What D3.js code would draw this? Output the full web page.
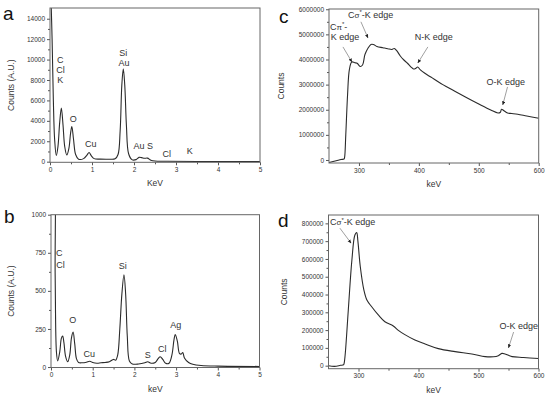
<!DOCTYPE html>
<html lang="en">
  <head>
    <meta charset="UTF-8" />
    <title>EDS / EELS spectra</title>
    <script src="https://cdnjs.cloudflare.com/ajax/libs/d3/7.8.5/d3.min.js"></script>
    <style>
      body {
        margin: 0;
        background: #fff;
        font-family: Arial, 'Liberation Sans', sans-serif;
      }
      .frame {
        fill: none;
        stroke: #666;
        stroke-width: 1;
      }
      .tick line {
        stroke: #555;
      }
      .tick text {
        font-size: 6.5px;
        fill: #333;
      }
      .spec {
        fill: none;
        stroke: #2b2b2b;
        stroke-width: 1.1;
      }
      .title {
        font-size: 8.5px;
        fill: #333;
      }
      .lab {
        font-size: 9px;
        fill: #333;
      }
      .letter {
        font-size: 19px;
        fill: #111;
      }
      .arrow {
        stroke: #888;
        stroke-width: 0.8;
      }
    </style>
  </head>
  <body>
    <svg width="550" height="399"></svg>
    <script>
      // panel a: EDS, counts vs KeV
      const aKeV = [0.02, 0.05, 0.08, 0.11, 0.15, 0.19, 0.23, 0.27, 0.31, 0.35, 0.4, 0.45, 0.49, 0.52, 0.56, 0.61, 0.68, 0.8, 0.88, 0.93, 0.98, 1.05, 1.2, 1.4, 1.55, 1.62, 1.67, 1.71, 1.745, 1.78, 1.82, 1.87, 1.95, 2.05, 2.12, 2.18, 2.25, 2.32, 2.4, 2.5, 2.8, 3.5, 5];
      const aCounts = [16500, 12000, 6000, 2200, 600, 1500, 3800, 5250, 3600, 1500, 650, 1300, 2800, 3450, 2200, 700, 250, 300, 650, 900, 600, 300, 250, 240, 280, 700, 3000, 7500, 9100, 7500, 3500, 800, 200, 200, 420, 400, 330, 350, 150, 60, 40, 20, 10];
      const aLabels = [['C', 0.245, 9650], ['Cl', 0.25, 8730], ['K', 0.245, 7750], ['O', 0.555, 3890], ['Cu', 0.97, 1470], ['Si', 1.745, 10360], ['Au', 1.76, 9380], ['Au S', 2.22, 1215], ['Cl', 2.78, 490], ['K', 3.33, 725]];

      // panel b: EDS, counts vs keV
      const bKeV = [0.05, 0.07, 0.1, 0.13, 0.16, 0.21, 0.25, 0.28, 0.31, 0.35, 0.4, 0.45, 0.49, 0.53, 0.57, 0.61, 0.66, 0.75, 0.85, 0.93, 1.0, 1.1, 1.2, 1.3, 1.4, 1.5, 1.55, 1.6, 1.65, 1.7, 1.75, 1.79, 1.83, 1.88, 1.95, 2.1, 2.25, 2.32, 2.4, 2.5, 2.57, 2.62, 2.68, 2.75, 2.83, 2.9, 2.95, 2.98, 3.03, 3.08, 3.12, 3.16, 3.2, 3.3, 3.4, 3.6, 4, 5];
      const bCounts = [1300, 1300, 600, 100, 40, 100, 190, 203, 160, 70, 35, 80, 190, 229, 150, 55, 30, 28, 32, 38, 30, 25, 28, 30, 35, 50, 45, 80, 250, 480, 606, 480, 200, 40, 20, 20, 28, 35, 25, 30, 55, 68, 50, 25, 25, 80, 180, 214, 170, 90, 85, 95, 60, 30, 18, 10, 6, 4];
      const bLabels = [['C', 0.2, 729], ['Cl', 0.23, 652], ['O', 0.52, 289], ['Cu', 0.92, 67], ['Si', 1.72, 642], ['S', 2.32, 60], ['Cl', 2.67, 97], ['Ag', 2.99, 256]];

      // panel c: EELS, counts vs keV
      const cKeV = [250, 262, 270, 275, 276, 278, 281, 284, 288, 293, 297, 302, 306, 310, 315, 320, 324, 330, 340, 348, 355, 359, 363, 369, 375, 381, 387, 391, 395, 398, 402, 410, 420, 440, 460, 480, 500, 520, 532, 536, 538, 542, 548, 555, 565, 580, 600];
      const cCounts = [-100000, -30000, 20000, 40000, 100000, 1000000, 2600000, 3600000, 3900000, 3870000, 3850000, 3720000, 3780000, 4200000, 4450000, 4600000, 4600000, 4520000, 4470000, 4430000, 4400000, 4440000, 4350000, 4140000, 3980000, 3850000, 3700000, 3620000, 3650000, 3700000, 3600000, 3450000, 3300000, 3000000, 2740000, 2480000, 2230000, 1990000, 1870000, 1900000, 2020000, 1960000, 1870000, 1850000, 1820000, 1750000, 1660000];

      // panel d: EELS, counts vs keV
      const dKeV = [250, 260, 270, 275, 276, 278, 283, 289, 294, 297, 299, 303, 309, 314, 322, 333, 344, 358, 367, 378, 394, 411, 433, 461, 489, 511, 525, 533, 539, 544, 550, 556, 575, 600];
      const dCounts = [0, -4000, 2000, 5000, 13000, 70000, 313000, 594000, 735000, 748000, 700000, 556000, 425000, 369000, 331000, 285000, 247000, 223000, 197000, 173000, 144000, 122000, 96000, 79000, 66000, 51000, 50000, 56000, 69000, 66000, 58000, 51000, 46000, 40000];

      const svg = d3.select('svg');

      function drawPanel(p) {
        const x = d3.scaleLinear().domain(p.xDomain).range([p.l, p.r]);
        const y = d3.scaleLinear().domain(p.yDomain).range([p.b, p.t]);
        const g = svg.append('g');

        g.append('clipPath')
          .attr('id', 'clip-' + p.id)
          .append('rect')
          .attr('x', p.l)
          .attr('y', p.t)
          .attr('width', p.r - p.l)
          .attr('height', p.b - p.t);

        const pts = p.xs.map((v, i) => [v, p.ys[i]]);
        g.append('path')
          .attr('class', 'spec')
          .attr('clip-path', `url(#clip-${p.id})`)
          .attr('d', d3.line().x(d => x(d[0])).y(d => y(d[1])).curve(d3.curveCatmullRom.alpha(0.5))(pts));

        // minor ticks
        g.append('g')
          .attr('transform', `translate(0,${p.b})`)
          .call(d3.axisBottom(x).tickValues(p.xMinor).tickSize(2).tickFormat(''))
          .call(s => s.select('.domain').remove());
        g.append('g')
          .attr('transform', `translate(${p.l},0)`)
          .call(d3.axisLeft(y).tickValues(p.yMinor).tickSize(2).tickFormat(''))
          .call(s => s.select('.domain').remove());

        // major ticks
        g.append('g')
          .attr('transform', `translate(0,${p.b})`)
          .call(d3.axisBottom(x).tickValues(p.xTicks).tickSize(3).tickPadding(2).tickFormat(d3.format('d')))
          .call(s => s.select('.domain').remove());
        g.append('g')
          .attr('transform', `translate(${p.l},0)`)
          .call(d3.axisLeft(y).tickValues(p.yTicks).tickSize(3).tickPadding(2).tickFormat(d3.format('d')))
          .call(s => s.select('.domain').remove());

        g.append('rect')
          .attr('class', 'frame')
          .attr('x', p.l)
          .attr('y', p.t)
          .attr('width', p.r - p.l)
          .attr('height', p.b - p.t);

        g.append('text')
          .attr('class', 'title')
          .attr('x', (p.l + p.r) / 2)
          .attr('y', p.b + 24)
          .attr('text-anchor', 'middle')
          .text(p.xTitle);
        g.append('text')
          .attr('class', 'title')
          .attr('transform', `translate(${p.yTitleX},${(p.t + p.b) / 2}) rotate(-90)`)
          .attr('text-anchor', 'middle')
          .text(p.yTitle);

        g.append('text')
          .attr('class', 'letter')
          .attr('x', p.letterX)
          .attr('y', p.letterY)
          .text(p.id);

        (p.labels || []).forEach(l => {
          g.append('text')
            .attr('class', 'lab')
            .attr('x', x(l[1]))
            .attr('y', y(l[2]))
            .attr('text-anchor', 'middle')
            .text(l[0]);
        });

        return { g, x, y };
      }

      // edge label: C + greek + superscript star
      function edgeText(g, px, py, greek, rest) {
        const t = g.append('text').attr('class', 'lab').attr('x', px).attr('y', py);
        t.append('tspan').text('C');
        t.append('tspan').attr('font-size', '8px').text(greek);
        t.append('tspan').attr('font-size', '6px').attr('dy', -3.5).text('*');
        t.append('tspan').attr('dy', 3.5).text(rest);
        return t;
      }

      function arrow(g, x1, y1, x2, y2) {
        g.append('line')
          .attr('class', 'arrow')
          .attr('x1', x1)
          .attr('y1', y1)
          .attr('x2', x2)
          .attr('y2', y2)
          .attr('marker-end', 'url(#head)');
      }

      svg
        .append('defs')
        .append('marker')
        .attr('id', 'head')
        .attr('viewBox', '0 0 10 10')
        .attr('refX', 9)
        .attr('refY', 5)
        .attr('markerWidth', 5)
        .attr('markerHeight', 5)
        .attr('orient', 'auto')
        .append('path')
        .attr('d', 'M0,1L10,5L0,9Z')
        .attr('fill', '#222');

      drawPanel({
        id: 'a', l: 50, r: 260, t: 8, b: 162.3,
        xDomain: [0, 5], yDomain: [-60, 15050],
        xTicks: [0, 1, 2, 3, 4, 5], xMinor: [0.5, 1.5, 2.5, 3.5, 4.5],
        yTicks: d3.range(0, 14001, 2000), yMinor: d3.range(1000, 14001, 2000),
        xs: aKeV, ys: aCounts, labels: aLabels,
        xTitle: 'KeV', yTitle: 'Counts (A.U.)', yTitleX: 14,
        letterX: 3, letterY: 20,
      });

      drawPanel({
        id: 'b', l: 51, r: 259.5, t: 214.7, b: 367.5,
        xDomain: [0, 5], yDomain: [-3, 1000],
        xTicks: [0, 1, 2, 3, 4, 5], xMinor: [0.5, 1.5, 2.5, 3.5, 4.5],
        yTicks: [0, 250, 500, 750, 1000], yMinor: [125, 375, 625, 875],
        xs: bKeV, ys: bCounts, labels: bLabels,
        xTitle: 'keV', yTitle: 'Counts (A.U.)', yTitleX: 14,
        letterX: 4, letterY: 223,
      });

      const c = drawPanel({
        id: 'c', l: 329, r: 538.7, t: 9, b: 163,
        xDomain: [250, 600], yDomain: [-120000, 6010000],
        xTicks: [300, 400, 500, 600], xMinor: [350, 450, 550],
        yTicks: d3.range(0, 6000001, 1000000), yMinor: d3.range(500000, 6000000, 1000000),
        xs: cKeV, ys: cCounts,
        xTitle: 'keV', yTitle: 'Counts', yTitleX: 284,
        letterX: 279, letterY: 23,
      });
      edgeText(c.g, c.x(251.5), c.y(5180000), 'π', '-');
      c.g.append('text').attr('class', 'lab').attr('x', c.x(253)).attr('y', c.y(4780000)).text('K edge');
      edgeText(c.g, c.x(281.7), c.y(5660000), 'σ', '-K edge');
      c.g.append('text').attr('class', 'lab').attr('x', c.x(393)).attr('y', c.y(4780000)).text('N-K edge');
      c.g.append('text').attr('class', 'lab').attr('x', c.x(513)).attr('y', c.y(2990000)).text('O-K edge');
      arrow(c.g, c.x(273.3), c.y(4500000), c.x(288.3), c.y(3900000));
      arrow(c.g, c.x(303.3), c.y(5500000), c.x(315), c.y(4860000));
      arrow(c.g, c.x(415), c.y(4500000), c.x(398.3), c.y(3860000));
      arrow(c.g, c.x(548), c.y(2910000), c.x(540), c.y(2190000));

      const d = drawPanel({
        id: 'd', l: 328.5, r: 538.5, t: 215, b: 368.7,
        xDomain: [250, 600], yDomain: [-17000, 847000],
        xTicks: [300, 400, 500, 600], xMinor: [350, 450, 550],
        yTicks: d3.range(0, 800001, 100000), yMinor: d3.range(50000, 800000, 100000),
        xs: dKeV, ys: dCounts,
        xTitle: 'keV', yTitle: 'Counts', yTitleX: 287,
        letterX: 278, letterY: 227,
      });
      edgeText(d.g, d.x(252.5), d.y(790000), 'σ', '-K edge');
      d.g.append('text').attr('class', 'lab').attr('x', d.x(535)).attr('y', d.y(206000)).text('O-K edge');
      arrow(d.g, d.x(269), d.y(773000), d.x(287.6), d.y(689000));
      arrow(d.g, d.x(558.5), d.y(189000), d.x(550), d.y(100000));
    </script>
  </body>
</html>
